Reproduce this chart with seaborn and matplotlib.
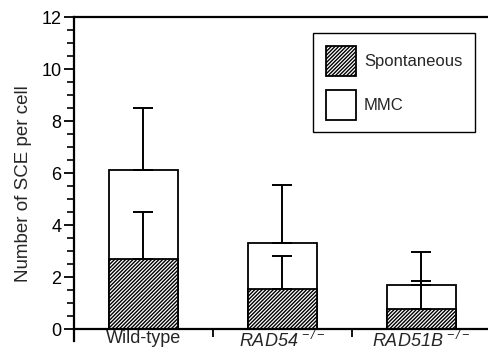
import numpy as np
import pandas as pd
import seaborn as sns
import matplotlib.pyplot as plt
from matplotlib.ticker import MultipleLocator

# --- data ---
genotypes = ["Wild-type", "RAD54", "RAD51B"]
tick_labels = ["Wild-type", r"$\mathrm{RAD54}^{\,-/-}$", r"$\mathrm{RAD51B}^{\,-/-}$"]
mmc_total = [6.1, 3.3, 1.7]          # total SCE per cell with MMC
mmc_err = [2.4, 2.25, 1.25]          # upper error (SD)
spontaneous = [2.7, 1.55, 0.78]      # spontaneous SCE per cell
spont_err = [1.8, 1.25, 1.07]

df = pd.DataFrame({"genotype": genotypes, "mmc": mmc_total, "spont": spontaneous})

sns.set_style("ticks")
plt.rcParams['font.family'] = ['Liberation Sans', 'DejaVu Sans']
plt.rcParams['mathtext.fontset'] = 'custom'
# italic gene names (digits included) in the tick labels
plt.rcParams['mathtext.rm'] = 'Liberation Sans:italic'
plt.rcParams['mathtext.it'] = 'Liberation Sans:italic'
plt.rcParams['hatch.linewidth'] = 1.0

fig = plt.figure(figsize=(4.89, 3.55), dpi=100)
ax = fig.add_axes([0.151, 0.040, 0.853, 0.912])

sns.barplot(data=df, x="genotype", y="mmc", color="white", edgecolor="black",
            linewidth=1.3, width=0.5, ax=ax, errorbar=None)
sns.barplot(data=df, x="genotype", y="spont", color="white", edgecolor="black",
            linewidth=1.3, width=0.5, ax=ax, errorbar=None, hatch="/////////")

mmc_bars = ax.containers[0]
spont_bars = ax.containers[1]

xpos = np.arange(len(genotypes))
ax.errorbar(xpos, mmc_total, yerr=[np.zeros(3), mmc_err], fmt="none",
            ecolor="black", elinewidth=1.4, capsize=7, capthick=1.4)
ax.errorbar(xpos, spontaneous, yerr=[np.zeros(3), spont_err], fmt="none",
            ecolor="black", elinewidth=1.4, capsize=7, capthick=1.4)

ax.set_xlim(-0.5, 2.5)
ax.set_ylim(-0.45, 12)
ax.spines['bottom'].set_position(('data', 0))
for side in ['left', 'bottom', 'top']:
    ax.spines[side].set_linewidth(1.6)
    ax.spines[side].set_color('black')
ax.spines['right'].set_visible(False)

ax.yaxis.set_major_locator(MultipleLocator(2))
ax.yaxis.set_minor_locator(MultipleLocator(0.5))
ax.tick_params(axis='y', which='major', length=7, width=1.3, labelsize=13, pad=2, colors='black')
ax.tick_params(axis='y', which='minor', length=5, width=1.2, colors='black')

ax.set_xticks([0.5, 1.5, 2.5])
ax.set_xticklabels([])
ax.set_xticks(xpos, minor=True)
ax.set_xticklabels(tick_labels, minor=True)
ax.tick_params(axis='x', which='major', length=6, width=1.3, colors='black')
ax.tick_params(axis='x', which='minor', length=0, labelsize=13, pad=1)

ax.set_xlabel("")
ax.set_ylabel("Number of SCE per cell", fontsize=13.5)
ax.yaxis.set_label_coords(-0.1, 0.487)

leg = ax.legend([spont_bars, mmc_bars], ["Spontaneous", "MMC"],
                loc="upper right", bbox_to_anchor=(0.971, 0.907),
                bbox_transform=fig.transFigure, borderaxespad=0,
                fontsize=12, handlelength=1.8, handleheight=2.4,
                labelspacing=0.85, handletextpad=0.5, borderpad=0.75,
                fancybox=False, framealpha=1, edgecolor="black")
leg.get_frame().set_linewidth(1.0)

fig.savefig("out.png", dpi=100)
